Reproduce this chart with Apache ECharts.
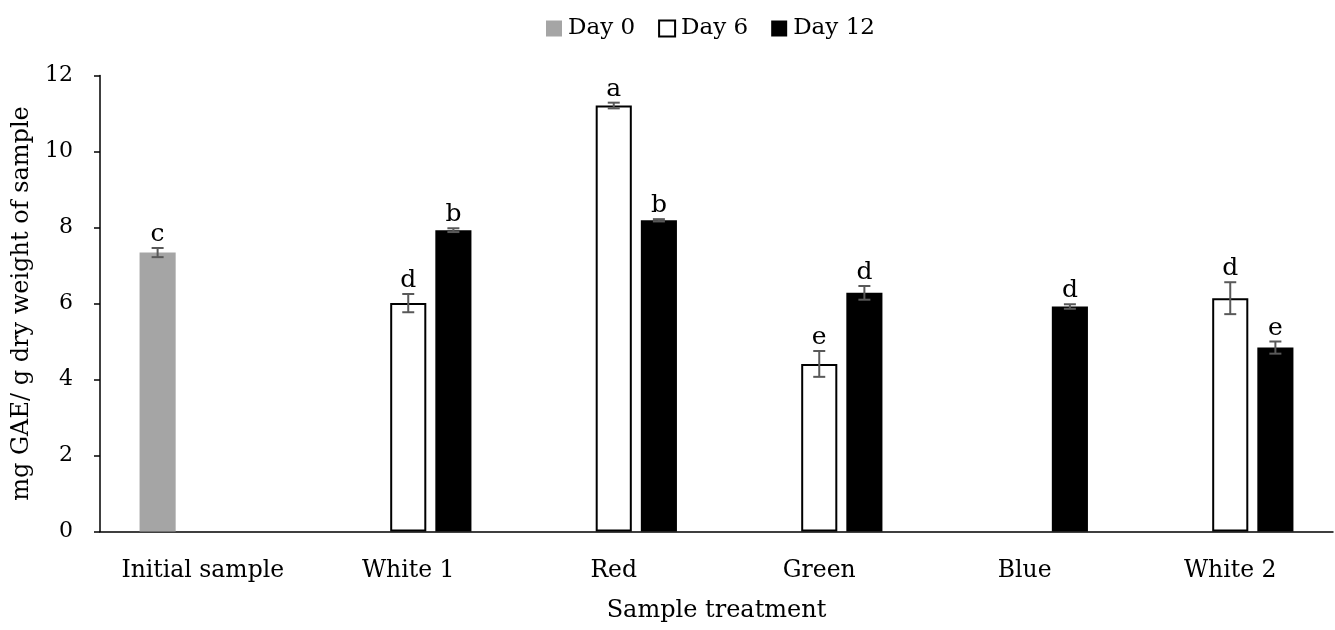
<!DOCTYPE html>
<html>
<head>
<meta charset="utf-8">
<script src="https://cdn.jsdelivr.net/npm/echarts@6/dist/echarts.min.js"></script>
<style>html,body{margin:0;padding:0;background:#fff}#c{width:1335px;height:630px}</style>
</head>
<body>
<div id="c"></div>
<script>
const categories = ['Initial sample', 'White 1', 'Red', 'Green', 'Blue', 'White 2'];
const seriesNames = ['Day 0', 'Day 6', 'Day 12'];
const day0 = [7.34, null, null, null, null, null];
const day6 = [null, 6.01, 11.21, 4.41, null, 6.14];
const day12 = [null, 7.93, 8.19, 6.28, 5.92, 4.84];
const err0 = [0.12, null, null, null, null, null];
const err6 = [null, 0.24, 0.075, 0.34, null, 0.42];
const err12 = [null, 0.05, 0.03, 0.18, 0.06, 0.16];
const let0 = ['c', '', '', '', '', ''];
const let6 = ['', 'd', 'a', 'e', '', 'd'];
const let12 = ['', 'b', 'b', 'd', 'd', 'e'];
const yTicks = [0, 2, 4, 6, 8, 10, 12];

const FONT = 'DejaVu Serif';
const BAR_GAP = 0.25, CAT_GAP = 0.385;
const vals = [day0, day6, day12];
const errs = [err0, err6, err12];
const lets = [let0, let6, let12];

function errData(k) {
  const out = [];
  categories.forEach((c, i) => {
    if (vals[k][i] != null) out.push([i, vals[k][i], errs[k][i], lets[k][i]]);
  });
  return out;
}

function makeErr(k) {
  return {
    type: 'custom',
    name: seriesNames[k] + ' err',
    z: 5,
    silent: true,
    renderItem: function (params, api) {
      const ci = api.value(0), v = api.value(1), e = api.value(2);
      const label = api.value(3);
      const catW = api.size([1, 0])[0];
      const bw = catW * (1 - CAT_GAP) / (3 + 2 * BAR_GAP);
      const center = api.coord([ci, v]);
      const x = center[0] + (k - 1) * bw * (1 + BAR_GAP);
      const pHi = api.coord([ci, v + e]);
      const pLo = api.coord([ci, v - e]);
      const cap = 6;
      const st = { stroke: '#595959', lineWidth: 2 };
      return {
        type: 'group',
        children: [
          { type: 'line', shape: { x1: x, y1: pHi[1], x2: x, y2: pLo[1] }, style: st },
          { type: 'line', shape: { x1: x - cap, y1: pHi[1], x2: x + cap, y2: pHi[1] }, style: st },
          { type: 'line', shape: { x1: x - cap, y1: pLo[1], x2: x + cap, y2: pLo[1] }, style: st },
          { type: 'text', style: { x: x, y: pHi[1] - 1, text: label, textAlign: 'center', textVerticalAlign: 'bottom', font: '25px "' + FONT + '"', fill: '#000' } }
        ]
      };
    },
    data: errData(k)
  };
}

const chart = echarts.init(document.getElementById('c'), null, { renderer: 'canvas' });
chart.setOption({
  animation: false,
  backgroundColor: '#fff',
  textStyle: { fontFamily: FONT, color: '#000' },
  legend: {
    data: seriesNames,
    top: 12,
    left: 541,
    icon: 'rect',
    itemWidth: 16,
    itemHeight: 16,
    itemGap: 23,
    textStyle: { fontFamily: FONT, fontSize: 23, color: '#000', padding: [0, 0, 0, 1] }
  },
  grid: { left: 100, right: 2, top: 75.5, bottom: 98.5, containLabel: false },
  xAxis: {
    type: 'category',
    data: categories,
    name: 'Sample treatment',
    nameLocation: 'middle',
    nameGap: 67,
    nameTextStyle: { fontFamily: FONT, fontSize: 24, color: '#000' },
    axisLine: { lineStyle: { color: '#000', width: 1.5 } },
    axisTick: { show: false },
    axisLabel: { fontFamily: FONT, fontSize: 23.5, color: '#000', margin: 27, interval: 0 }
  },
  yAxis: {
    type: 'value',
    min: yTicks[0],
    max: yTicks[yTicks.length - 1],
    interval: 2,
    name: 'mg GAE/ g dry weight of sample',
    nameLocation: 'middle',
    nameGap: 56,
    nameTextStyle: { fontFamily: FONT, fontSize: 24, color: '#000' },
    axisLine: { show: true, lineStyle: { color: '#000', width: 1.5 } },
    axisTick: { show: true, inside: false, length: 6, lineStyle: { color: '#000', width: 1.5 } },
    splitLine: { show: false },
    axisLabel: { fontFamily: FONT, fontSize: 22, color: '#000', margin: 27 }
  },
  series: [
    { type: 'bar', name: seriesNames[0], data: day0, barGap: '25%', barCategoryGap: '38.5%',
      itemStyle: { color: '#A5A5A5' } },
    { type: 'bar', name: seriesNames[1], data: day6, barGap: '25%', barCategoryGap: '38.5%',
      itemStyle: { color: '#FFFFFF', borderColor: '#000', borderWidth: 2 } },
    { type: 'bar', name: seriesNames[2], data: day12, barGap: '25%', barCategoryGap: '38.5%',
      itemStyle: { color: '#000000' } },
    makeErr(0), makeErr(1), makeErr(2)
  ]
});
</script>
</body>
</html>
